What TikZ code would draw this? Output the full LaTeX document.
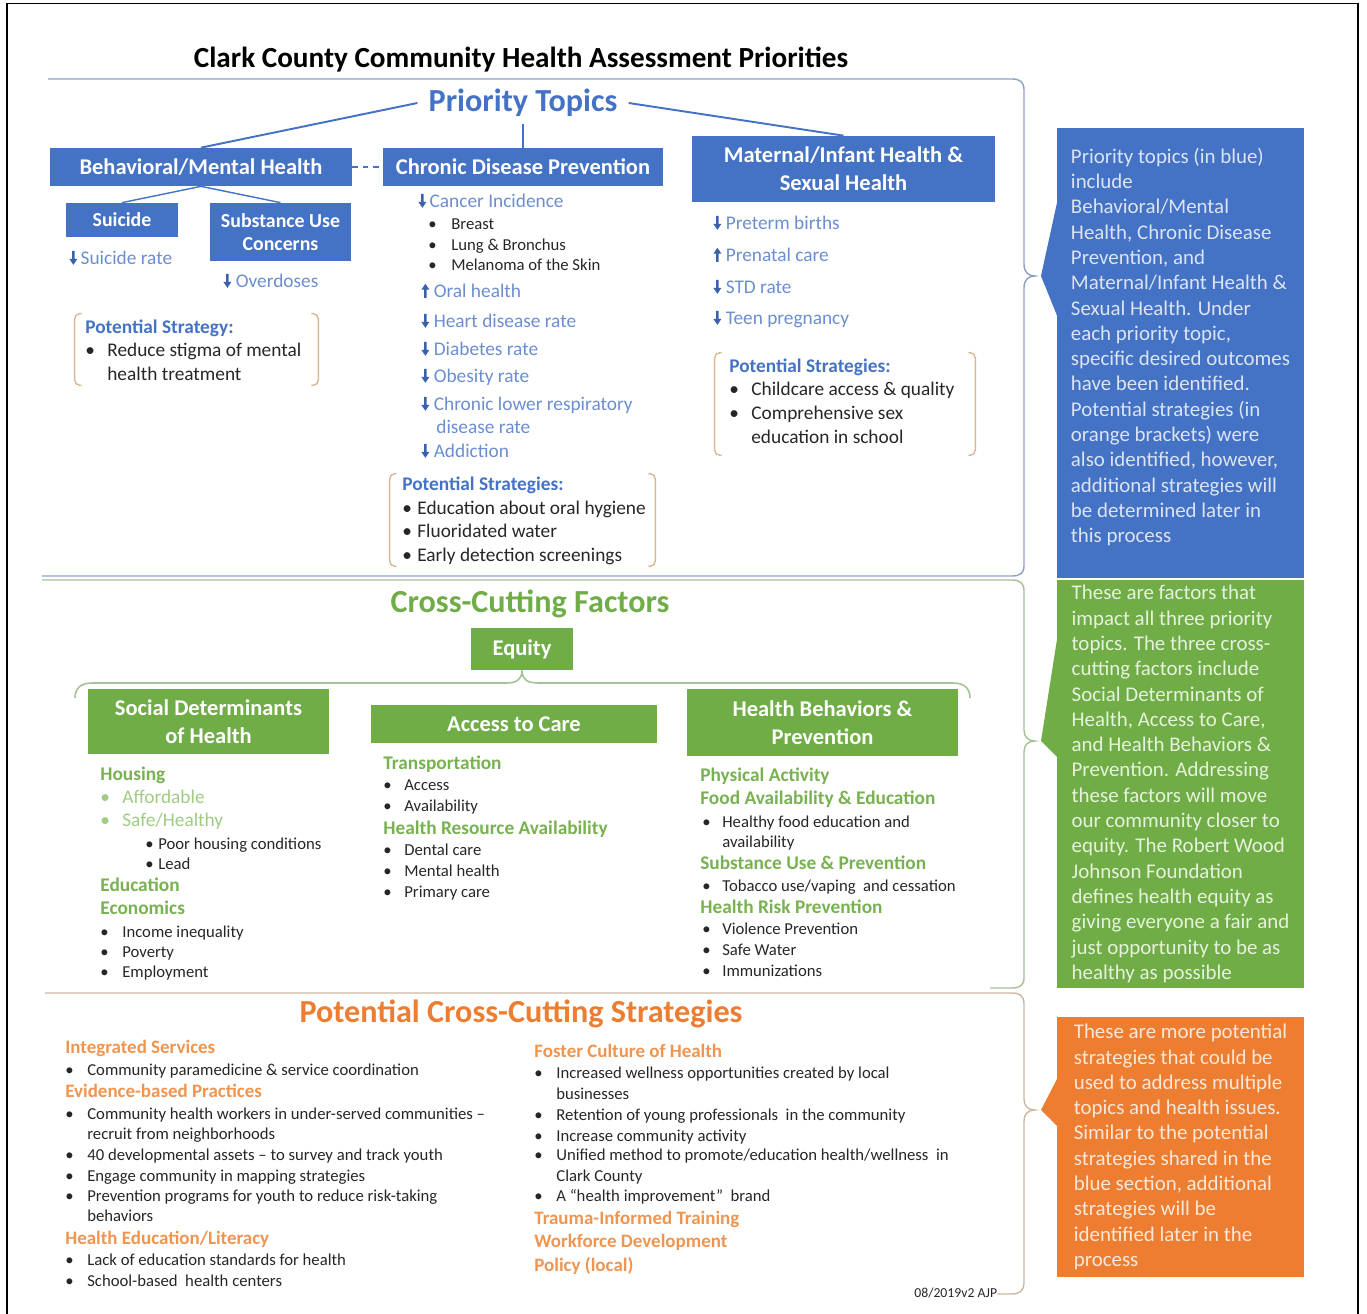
\documentclass[tikz,border=0pt]{standalone}
\usepackage{fontspec}
\setmainfont{Carlito}

\definecolor{pblue}{HTML}{4472C4}
\definecolor{itemblue}{HTML}{6A8ED0}
\definecolor{arrowblue}{HTML}{3A62AA}
\definecolor{fgreen}{HTML}{70AD47}
\definecolor{headgreen}{HTML}{78B250}
\definecolor{lgreen}{HTML}{9FCB82}
\definecolor{sorange}{HTML}{ED7D31}
\definecolor{headorange}{HTML}{EF9550}
\definecolor{textgray}{HTML}{262626}
\definecolor{bracketTan}{HTML}{D8B893}
\definecolor{bbrace}{HTML}{8DA1C5}
\definecolor{gbrace}{HTML}{A6C196}
\definecolor{obrace}{HTML}{CDB89F}
\definecolor{bnoteText}{HTML}{DCE4F4}
\definecolor{gnoteText}{HTML}{E6F2DD}
\definecolor{onoteText}{HTML}{FCE8DA}

% small block arrows in front of the outcomes
\newcommand{\arrdn}{\tikz[baseline=0pt]\fill[arrowblue] (0pt,0pt) -- (-2.3pt,3.4pt) -- (-0.7pt,3.4pt) -- (-0.7pt,8pt) -- (0.7pt,8pt) -- (0.7pt,3.4pt) -- (2.3pt,3.4pt) -- cycle;}
\newcommand{\arrup}{\tikz[baseline=0pt]\fill[arrowblue] (0pt,8pt) -- (-2.3pt,4.6pt) -- (-0.7pt,4.6pt) -- (-0.7pt,0pt) -- (0.7pt,0pt) -- (0.7pt,4.6pt) -- (2.3pt,4.6pt) -- cycle;}
\newcommand{\bulbox}[1]{\makebox[#1][l]{\textbullet}}

\tikzstyle{txt}=[anchor=west,inner sep=0pt,text height=1.5ex,text depth=.35ex,yshift=-0.06cm]
\tikzstyle{outcome}=[txt,text=itemblue,font=\fontsize{11}{13}\selectfont]
\tikzstyle{detail}=[txt,text=textgray,font=\fontsize{9.5}{11.5}\selectfont]
\tikzstyle{stratHead}=[txt,text=pblue,font=\bfseries\fontsize{11}{13}\selectfont]
\tikzstyle{stratItem}=[txt,text=textgray,font=\fontsize{11}{13}\selectfont]
\tikzstyle{factorHead}=[txt,text=headgreen,font=\bfseries\fontsize{11}{13}\selectfont]
\tikzstyle{factorSub}=[txt,text=lgreen,font=\fontsize{11}{13}\selectfont]
\tikzstyle{crossHead}=[txt,text=headorange,font=\bfseries\fontsize{10.8}{13}\selectfont]
\tikzstyle{secTitle}=[inner sep=0pt,font=\bfseries\fontsize{18.3}{22}\selectfont]
\tikzstyle{topicBox}=[fill=pblue,text=white,align=center,inner sep=0pt,font=\bfseries\fontsize{12.8}{15.9}\selectfont]
\tikzstyle{subBox}=[topicBox,font=\bfseries\fontsize{11.3}{13}\selectfont]
\tikzstyle{factorBox}=[fill=fgreen,text=white,align=center,inner sep=0pt,font=\bfseries\fontsize{12.8}{15.9}\selectfont]
\tikzstyle{sideNote}=[align=left,inner sep=0pt,minimum width=4.94cm,font=\fontsize{11.9}{14.4}\selectfont]
\tikzstyle{stratBox}=[inner sep=0pt]
\tikzstyle{stratBracket}=[draw=bracketTan,line width=0.8pt,rounded corners=3pt]
\tikzstyle{topicLink}=[draw=pblue,line width=1.1pt]

\begin{document}
\begin{tikzpicture}[x=0.02cm,y=-0.02cm]
    \useasboundingbox (0,0) rectangle (1367,1314);
    \draw[line width=1.1pt] (7,3.5) rectangle (1358,1330);

    \node[inner sep=0pt,font=\bfseries\fontsize{16.6}{19}\selectfont] (title) at (521,60) {Clark County Community Health Assessment Priorities};

    % priority topics
    \node[secTitle,text=pblue,inner xsep=0.22cm,inner ysep=0.14cm] (pt) at (523,103) {Priority Topics};
    \node[topicBox,minimum width=6.04cm,minimum height=0.76cm] (bm) at (201,167) {Behavioral/Mental Health};
    \node[topicBox,minimum width=5.6cm,minimum height=0.76cm] (cd) at (523,167) {Chronic Disease Prevention};
    \node[topicBox,minimum width=6.06cm,minimum height=1.32cm] (mi) at (843.5,169) {Maternal/Infant Health \&\\Sexual Health};
    \node[subBox,minimum width=2.24cm,minimum height=0.68cm] (su) at (122,220) {Suicide};
    \node[subBox,minimum width=2.82cm,minimum height=1.16cm] (sb) at (280.5,232) {Substance Use\\Concerns};

    \draw[topicLink] (pt.west) -- (bm.north);
    \draw[topicLink] (pt.south) -- (cd.north);
    \draw[topicLink] (pt.east) -- (mi.north);
    \draw[topicLink,dashed] (bm.east) -- (cd.west);
    \draw[topicLink,line width=0.8pt] (bm.south) -- (su.north);
    \draw[topicLink,line width=0.8pt] (bm.south) -- (sb.north);

    % behavioral/mental health
    \node[outcome] (bm1) at (69,257) {\arrdn\,Suicide rate};
    \node[outcome] (bm2) at (223,280) {\arrdn\ Overdoses};
    \node[stratBox,minimum width=4.86cm,minimum height=1.42cm] (bmS) at (196.5,349.5) {};
    \draw[stratBracket] (bmS.north west) ++(7,0) -| (bmS.south west) -- ++(7,0);
    \draw[stratBracket] (bmS.north east) ++(-7,0) -| (bmS.south east) -- ++(-7,0);
    \node[stratHead] (bmS0) at (85,326) {Potential Strategy:};
    \node[stratItem] (bmS1) at (85,349) {\bulbox{0.44cm}Reduce stigma of mental};
    \node[stratItem] (bmS2) at (107,373) {health treatment};

    % chronic disease
    \node[outcome] (cd1) at (418,200) {\arrdn\,Cancer Incidence};
    \node[detail] (cd1a) at (428,222) {\bulbox{0.46cm}Breast};
    \node[detail] (cd1b) at (428,243) {\bulbox{0.46cm}Lung \& Bronchus};
    \node[detail] (cd1c) at (428,263) {\bulbox{0.46cm}Melanoma of the Skin};
    \node[outcome] (cd2) at (421,290) {\arrup\ Oral health};
    \node[outcome] (cd3) at (421,320) {\arrdn\ Heart disease rate};
    \node[outcome] (cd4) at (421,348) {\arrdn\ Diabetes rate};
    \node[outcome] (cd5) at (421,375) {\arrdn\ Obesity rate};
    \node[outcome] (cd6) at (421,403) {\arrdn\ Chronic lower respiratory};
    \node[outcome] (cd6b) at (436,426) {disease rate};
    \node[outcome] (cd7) at (421,450) {\arrdn\ Addiction};
    \node[stratBox,minimum width=5.3cm,minimum height=1.84cm] (cdS) at (522.5,520) {};
    \draw[stratBracket] (cdS.north west) ++(7,0) -| (cdS.south west) -- ++(7,0);
    \draw[stratBracket] (cdS.north east) ++(-7,0) -| (cdS.south east) -- ++(-7,0);
    \node[stratHead] (cdS0) at (402,483) {Potential Strategies:};
    \node[stratItem] (cdS1) at (402,507) {\bulbox{0.3cm}Education about oral hygiene};
    \node[stratItem] (cdS2) at (402,530) {\bulbox{0.3cm}Fluoridated water};
    \node[stratItem] (cdS3) at (402,554) {\bulbox{0.3cm}Early detection screenings};

    % maternal/infant health
    \node[outcome] (mi1) at (713,222) {\arrdn\ Preterm births};
    \node[outcome] (mi2) at (713,254) {\arrup\ Prenatal care};
    \node[outcome] (mi3) at (713,286) {\arrdn\ STD rate};
    \node[outcome] (mi4) at (713,317) {\arrdn\ Teen pregnancy};
    \node[stratBox,minimum width=5.2cm,minimum height=2.04cm] (miS) at (845,404) {};
    \draw[stratBracket] (miS.north west) ++(7,0) -| (miS.south west) -- ++(7,0);
    \draw[stratBracket] (miS.north east) ++(-7,0) -| (miS.south east) -- ++(-7,0);
    \node[stratHead] (miS0) at (729,365) {Potential Strategies:};
    \node[stratItem] (miS1) at (729,388) {\bulbox{0.44cm}Childcare access \& quality};
    \node[stratItem] (miS2) at (729,412) {\bulbox{0.44cm}Comprehensive sex};
    \node[stratItem] (miS3) at (751,436) {education in school};

    % cross-cutting factors
    \node[secTitle,text=fgreen] (cf) at (530,604) {Cross-Cutting Factors};
    \node[factorBox,minimum width=2.04cm,minimum height=0.84cm] (eq) at (522,649) {Equity};
    \draw[gbrace,line width=0.9pt] (75,698) .. controls (75,689) and (80,683) .. (92,683) -- (506,683)
        .. controls (516,683) and (522,680) .. (eq.south) .. controls (522,680) and (528,683) .. (538,683)
        -- (953,683) .. controls (965,683) and (970,689) .. (970,698);
    \node[factorBox,minimum width=4.82cm,minimum height=1.3cm] (sd) at (208.5,721.5) {Social Determinants\\of Health};
    \node[factorBox,minimum width=5.72cm,minimum height=0.76cm] (ac) at (514,724) {Access to Care};
    \node[factorBox,minimum width=5.42cm,minimum height=1.34cm] (hb) at (822.5,722.5) {Health Behaviors \&\\Prevention};

    \node[factorHead] (sd1) at (100,773) {Housing};
    \node[factorSub] (sd1a) at (100,796) {\bulbox{0.44cm}Affordable};
    \node[factorSub] (sd1b) at (100,819) {\bulbox{0.44cm}Safe/Healthy};
    \node[detail] (sd1c) at (145,842) {\bulbox{0.26cm}Poor housing conditions};
    \node[detail] (sd1d) at (145,862) {\bulbox{0.26cm}Lead};
    \node[factorHead] (sd2) at (100,884) {Education};
    \node[factorHead] (sd3) at (100,907) {Economics};
    \node[detail] (sd3a) at (100,930) {\bulbox{0.44cm}Income inequality};
    \node[detail] (sd3b) at (100,950) {\bulbox{0.44cm}Poverty};
    \node[detail] (sd3c) at (100,970) {\bulbox{0.44cm}Employment};

    \node[factorHead] (ac1) at (383,762) {Transportation};
    \node[detail] (ac1a) at (383,783) {\bulbox{0.42cm}Access};
    \node[detail] (ac1b) at (383,804) {\bulbox{0.42cm}Availability};
    \node[factorHead] (ac2) at (383,827) {Health Resource Availability};
    \node[detail] (ac2a) at (383,848) {\bulbox{0.42cm}Dental care};
    \node[detail] (ac2b) at (383,869) {\bulbox{0.42cm}Mental health};
    \node[detail] (ac2c) at (383,890) {\bulbox{0.42cm}Primary care};

    \node[factorHead] (hb1) at (700,774) {Physical Activity};
    \node[factorHead] (hb2) at (700,797) {Food Availability \& Education};
    \node[detail] (hb2a) at (702,820) {\bulbox{0.4cm}Healthy food education and};
    \node[detail] (hb2b) at (722,840) {availability};
    \node[factorHead] (hb3) at (700,862) {Substance Use \& Prevention};
    \node[detail] (hb3a) at (702,884) {\bulbox{0.4cm}Tobacco use/vaping\ \ and cessation};
    \node[factorHead] (hb4) at (700,906) {Health Risk Prevention};
    \node[detail] (hb4a) at (702,927) {\bulbox{0.4cm}Violence Prevention};
    \node[detail] (hb4b) at (702,948) {\bulbox{0.4cm}Safe Water};
    \node[detail] (hb4c) at (702,969) {\bulbox{0.4cm}Immunizations};

    % cross-cutting strategies
    \node[secTitle,text=sorange] (cs) at (521,1014) {Potential Cross-Cutting Strategies};

    \node[crossHead] (cl1) at (65,1046) {Integrated Services};
    \node[detail] (cl1a) at (65,1068) {\bulbox{0.44cm}Community paramedicine \& service coordination};
    \node[crossHead] (cl2) at (65,1090) {Evidence-based Practices};
    \node[detail] (cl2a) at (65,1112) {\bulbox{0.44cm}Community health workers in under-served communities --};
    \node[detail] (cl2b) at (87,1132) {recruit from neighborhoods};
    \node[detail] (cl2c) at (65,1153) {\bulbox{0.44cm}40 developmental assets -- to survey and track youth};
    \node[detail] (cl2d) at (65,1174) {\bulbox{0.44cm}Engage community in mapping strategies};
    \node[detail] (cl2e) at (65,1194) {\bulbox{0.44cm}Prevention programs for youth to reduce risk-taking};
    \node[detail] (cl2f) at (87,1214) {behaviors};
    \node[crossHead] (cl3) at (65,1237) {Health Education/Literacy};
    \node[detail] (cl3a) at (65,1258) {\bulbox{0.44cm}Lack of education standards for health};
    \node[detail] (cl3b) at (65,1279) {\bulbox{0.44cm}School-based\ \ health centers};

    \node[crossHead] (cr1) at (534,1050) {Foster Culture of Health};
    \node[detail] (cr1a) at (534,1071) {\bulbox{0.44cm}Increased wellness opportunities created by local};
    \node[detail] (cr1b) at (556,1092) {businesses};
    \node[detail] (cr1c) at (534,1113) {\bulbox{0.44cm}Retention of young professionals\ \ in the community};
    \node[detail] (cr1d) at (534,1134) {\bulbox{0.44cm}Increase community activity};
    \node[detail] (cr1e) at (534,1153) {\bulbox{0.44cm}Unified method to promote/education health/wellness\ \ in};
    \node[detail] (cr1f) at (556,1174) {Clark County};
    \node[detail] (cr1g) at (534,1194) {\bulbox{0.44cm}A “health improvement”\ \ brand};
    \node[crossHead] (cr2) at (534,1217) {Trauma-Informed Training};
    \node[crossHead] (cr3) at (534,1240) {Workforce Development};
    \node[crossHead] (cr4) at (534,1264) {Policy (local)};
    \node[txt,text=textgray,font=\fontsize{7.8}{9}\selectfont] (ver) at (914,1290) {08/2019v2 AJP};

    % section braces
    \draw[bbrace,line width=0.8pt] (48,79) -- (1012,79) .. controls (1020,79) and (1024,82) .. (1024,90)
        -- (1024,264) .. controls (1024,272) and (1028,276) .. (1035,276)
        .. controls (1028,276) and (1024,280) .. (1024,288) -- (1024,566)
        .. controls (1024,573) and (1020,576) .. (1012,576) -- (42,576);
    \draw[gbrace,line width=0.8pt] (42,580) -- (1012,580) .. controls (1020,580) and (1024,583) .. (1024,591)
        -- (1024,730) .. controls (1024,737) and (1028,741) .. (1035,741)
        .. controls (1028,741) and (1024,745) .. (1024,752) -- (1024,978)
        .. controls (1024,985) and (1020,988) .. (1012,988) -- (990,988);
    \draw[obrace,line width=0.8pt] (45,993) -- (1012,993) .. controls (1020,993) and (1024,996) .. (1024,1004)
        -- (1024,1099) .. controls (1024,1106) and (1028,1110) .. (1035,1110)
        .. controls (1028,1110) and (1024,1114) .. (1024,1121) -- (1024,1283)
        .. controls (1024,1290) and (1020,1294) .. (1012,1294) -- (997,1294);

    % side notes
    \node[sideNote,fill=pblue,minimum height=9cm] (bn) at (1180.5,353) {};
    \node[sideNote,text=bnoteText] (bnt) at (1180.5,347) {Priority topics (in blue)\\include\\Behavioral/Mental\\Health, Chronic Disease\\Prevention, and\\Maternal/Infant Health \&\\Sexual Health. Under\\each priority topic,\\specific desired outcomes\\have been identified.\\Potential strategies (in\\orange brackets) were\\also identified,\ however,\\additional strategies will\\be determined later in\\this process};
    \fill[pblue] (1058,198) -- (1041,276) -- (1058,318) -- cycle;
    \node[sideNote,fill=fgreen,text=gnoteText,minimum height=8.16cm] (gn) at (1180.5,784) {These are factors that\\impact all three priority\\topics. The three cross-\\cutting factors include\\Social Determinants of\\Health, Access to Care,\\and Health Behaviors \&\\Prevention. Addressing\\these factors will move\\our community closer to\\equity. The Robert Wood\\Johnson Foundation\\defines health equity as\\giving everyone a fair and\\just opportunity to be as\\healthy as possible};
    \fill[fgreen] (1058,633) -- (1041,741) -- (1058,758) -- cycle;
    \node[sideNote,fill=sorange,text=onoteText,minimum height=5.2cm] (on) at (1180.5,1147) {These are more potential\\strategies that could be\\used to address multiple\\topics and health issues.\\Similar to the potential\\strategies shared in the\\blue section, additional\\strategies will be\\identified later in the\\process};
    \fill[sorange] (1058,1077) -- (1041,1110) -- (1058,1127) -- cycle;
\end{tikzpicture}
\end{document}
